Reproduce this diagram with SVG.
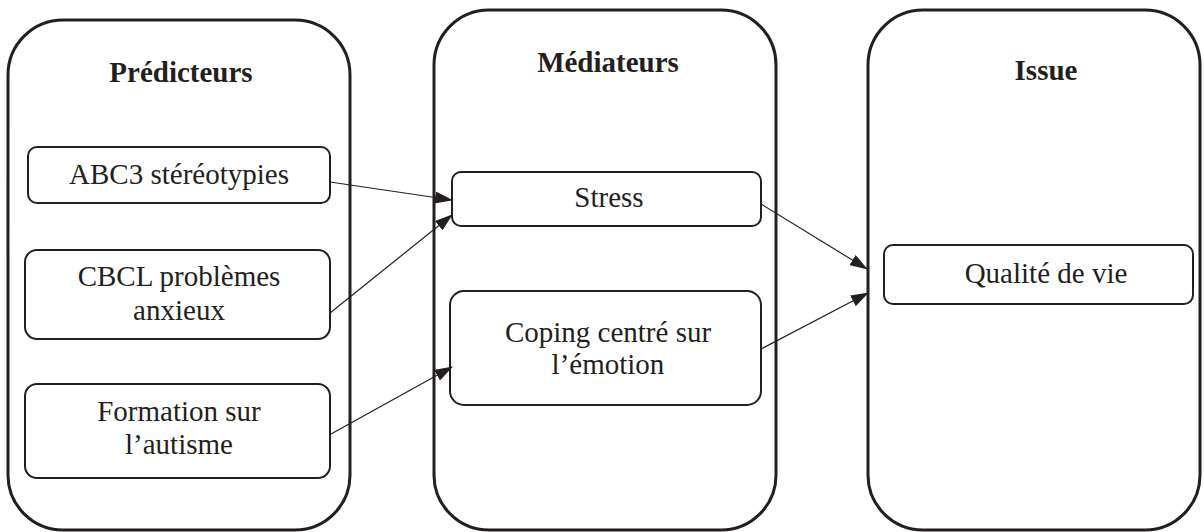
<svg xmlns="http://www.w3.org/2000/svg" width="1204" height="532" viewBox="0 0 1204 532">
<style>
.big{fill:none;stroke:#231f20;stroke-width:3}
.box{fill:#fff;stroke:#231f20;stroke-width:2}
.t{font-family:"Liberation Serif","Times New Roman",serif;font-size:29px;fill:#231f20;text-anchor:middle}
.h{font-family:"Liberation Serif","Times New Roman",serif;font-size:29px;font-weight:bold;fill:#231f20;text-anchor:middle}
.c{stroke:#231f20;stroke-width:1.2;fill:none;marker-end:url(#ah)}
</style>
<defs>
<marker id="ah" markerWidth="18" markerHeight="12" refX="17" refY="6" orient="auto" markerUnits="userSpaceOnUse">
<path d="M0,0 L18,6 L0,12 Z" fill="#231f20"/>
</marker>
</defs>
<g id="predicteurs">
<rect class="big" x="8" y="20" width="342" height="510" rx="55" ry="55"/>
<text class="h" x="181" y="82">Prédicteurs</text>
</g>
<g id="mediateurs">
<rect class="big" x="434" y="10" width="342" height="520" rx="55" ry="55"/>
<text class="h" x="608" y="72">Médiateurs</text>
</g>
<g id="issue">
<rect class="big" x="868" y="10" width="332" height="520" rx="55" ry="55"/>
<text class="h" x="1046" y="80">Issue</text>
</g>
<g id="abc3">
<rect class="box" x="28" y="147" width="302" height="56" rx="9" ry="9"/>
<text class="t" x="179" y="184">ABC3 stéréotypies</text>
</g>
<g id="cbcl">
<rect class="box" x="25" y="250" width="305" height="89" rx="12" ry="12"/>
<text class="t" x="179" y="286">CBCL problèmes</text>
<text class="t" x="179" y="320">anxieux</text>
</g>
<g id="formation">
<rect class="box" x="25" y="384" width="305" height="94" rx="12" ry="12"/>
<text class="t" x="179" y="421">Formation sur</text>
<text class="t" x="179" y="454">l’autisme</text>
</g>
<g id="stress">
<rect class="box" x="452" y="172" width="309" height="54" rx="9" ry="9"/>
<text class="t" x="609" y="207">Stress</text>
</g>
<g id="coping">
<rect class="box" x="450" y="291" width="311" height="114" rx="14" ry="14"/>
<text class="t" x="608" y="342">Coping centré sur</text>
<text class="t" x="608" y="374">l’émotion</text>
</g>
<g id="qualite">
<rect class="box" x="884" y="245" width="309" height="59" rx="9" ry="9"/>
<text class="t" x="1046" y="283">Qualité de vie</text>
</g>
<g id="connectors">
<line class="c" x1="330" y1="182" x2="452" y2="200"/>
<line class="c" x1="330" y1="313" x2="452" y2="215"/>
<line class="c" x1="331" y1="434" x2="452" y2="367"/>
<line class="c" x1="761" y1="204" x2="867" y2="269"/>
<line class="c" x1="761" y1="349" x2="868" y2="293"/>
</g>
</svg>
